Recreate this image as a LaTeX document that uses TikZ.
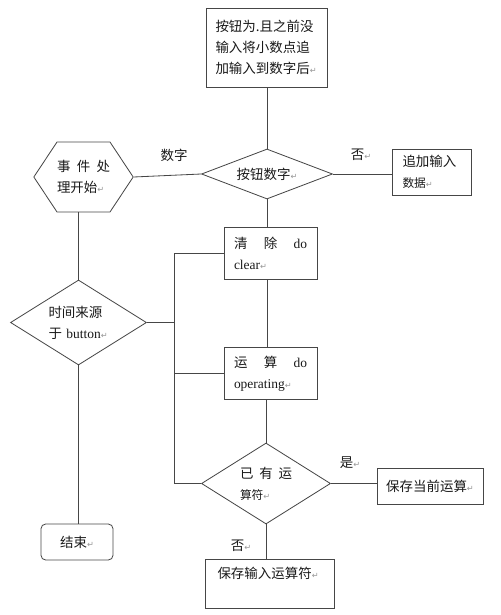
\documentclass[tikz,border=0pt]{standalone}
\usepackage{fontspec}
\setmainfont{Liberation Serif}
\newfontfamily\cjk{Noto Sans CJK SC}
\newfontfamily\symfont{DejaVu Sans}
\usepackage{xcolor}
\definecolor{linegray}{RGB}{70,70,70}
\definecolor{markgray}{RGB}{150,150,150}
\usepackage{tikz}
\usetikzlibrary{positioning}
\usetikzlibrary{shapes.geometric,shapes.symbols}
\newcommand{\pxu}{0.03cm}
\newcommand{\pmark}{\textcolor{markgray}{\symfont\fontsize{7}{7}\selectfont ↵}}
\newcommand{\en}[1]{{\rmfamily #1}}
\newcommand{\smallzh}{\fontsize{10}{18}\selectfont}

\begin{document}
\begin{tikzpicture}[x=0.03cm,y=-0.03cm,
  every node/.style={font=\cjk\fontsize{11.5}{18}\selectfont, text=black!90},
  procbox/.style={draw=linegray, line width=0.7pt, rectangle, inner sep=0pt, align=left},
  decision/.style={draw=linegray, line width=0.7pt, diamond, inner sep=0pt, align=left},
  hexa/.style={draw=linegray, line width=0.7pt, signal, signal to=west and east, signal pointer angle=113, inner sep=0pt, align=left},
  endbox/.style={draw=linegray, line width=0.7pt, rectangle, rounded corners=4pt, inner sep=0pt},
  conn/.style={linegray, line width=0.7pt}]
\useasboundingbox (0,0) rectangle (500,615);
\node (dot) at (267,47.5) [procbox, minimum width=121*\pxu, minimum height=79*\pxu, text width=103*\pxu] {按钮为.且之前没\\输入将小数点追\\加输入到数字后\pmark};
\node (key) at (267,174) [decision, aspect=2.62, minimum width=131*\pxu, minimum height=50*\pxu] {按钮数字\pmark};
\node (start) at (83.5,177) [hexa, minimum width=99*\pxu, minimum height=70*\pxu, text width=53*\pxu] {事\hfill 件\hfill 处\\理开始\pmark};
\node (append) at (431.5,172) [procbox, minimum width=79*\pxu, minimum height=46*\pxu, text width=58*\pxu] {追加输入\\{\smallzh 数据}\pmark};
\node (clear) at (270.5,253) [procbox, minimum width=93*\pxu, minimum height=52*\pxu, text width=73*\pxu] {清\hfill 除\hfill \en{do}\\\en{clear}\pmark};
\node (oper) at (270.5,373.5) [procbox, minimum width=93*\pxu, minimum height=52*\pxu, text width=73*\pxu] {运\hfill 算\hfill \en{do}\\\en{operating}\pmark};
\node (ask) at (78.5,322.5) [decision, aspect=1.6, minimum width=136*\pxu, minimum height=85*\pxu, text width=60*\pxu] {时间来源\\于 \en{button}\pmark};
\node (hasop) at (266,483.5) [decision, aspect=1.59, minimum width=129*\pxu, minimum height=81*\pxu, text width=52*\pxu] {已\hfill 有\hfill 运\\{\smallzh 算符}\pmark};
\node (keep) at (430,486) [procbox, minimum width=106*\pxu, minimum height=36*\pxu] {保存当前运算\pmark};
\node (store) at (269.5,583.5) [procbox, minimum width=129*\pxu, minimum height=49*\pxu, text width=104*\pxu] {保存输入运算符\pmark\\\mbox{}};
\node (finish) at (77,542) [endbox, minimum width=72*\pxu, minimum height=36*\pxu] {结束\pmark};
\node (lnum) at (174,155) {数字};
\node (lno) at (361,155) {否\pmark};
\node (lyes) at (350,463) {是\pmark};
\node (lnotop) at (241,546) {否\pmark};
\coordinate (bus) at (174,322.5);
\draw[conn] (dot.south) -- (key.north);
\draw[conn] (start.east) -- (key.west);
\draw[conn] (key.east) -- (key.east -| append.west);
\draw[conn] (key.south) -- (key.south |- clear.north);
\draw[conn] (key.south |- clear.south) -- (key.south |- oper.north);
\draw[conn] (hasop.north |- oper.south) -- (hasop.north);
\draw[conn] (hasop.east) -- (hasop.east -| keep.west);
\draw[conn] (hasop.south) -- (hasop.south |- store.north);
\draw[conn] (ask.north |- start.south) -- (ask.north);
\draw[conn] (ask.south) -- (ask.south |- finish.north);
\draw[conn] (ask.east) -- (bus);
\draw[conn] (clear.west) -| (bus);
\draw[conn] (oper.west) -| (bus);
\draw[conn] (hasop.west) -| (bus);
\end{tikzpicture}
\end{document}
